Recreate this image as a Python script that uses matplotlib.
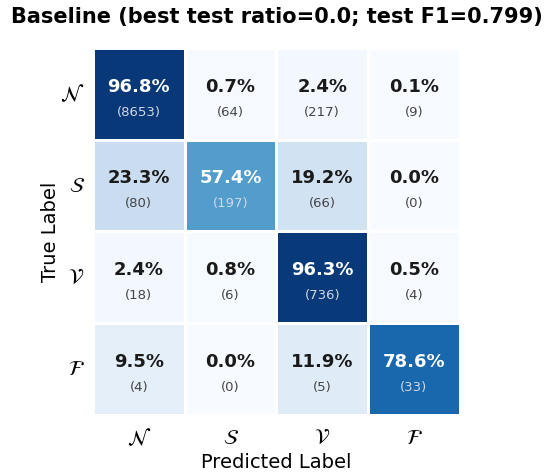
import matplotlib
matplotlib.use("Agg")
import matplotlib.pyplot as plt
import numpy as np
import seaborn as sns

classes = [r'$\mathcal{N}$', r'$\mathcal{S}$', r'$\mathcal{V}$', r'$\mathcal{F}$']
counts = np.array([
    [8653, 64, 217, 9],
    [80, 197, 66, 0],
    [18, 6, 736, 4],
    [4, 0, 5, 33],
])
title = "Baseline (best test ratio=0.0; test F1=0.799)"

pct = counts / counts.sum(axis=1, keepdims=True)

fig = plt.figure(figsize=(5.5, 4.73), dpi=100)
ax = fig.add_axes([0.169, 0.1226, 0.667, 0.776])
sns.heatmap(pct, cmap="Blues", vmin=0, vmax=1, cbar=False, linewidths=2,
            linecolor="white", square=False, ax=ax, annot=False)

for i in range(4):
    for j in range(4):
        v = pct[i, j]
        dark = v > 0.5
        c1 = "white" if dark else "#1a1a1a"
        c2 = "#d0d8e6" if dark else "#444444"
        ax.text(j + 0.5, i + 0.42, f"{v*100:.1f}%", ha="center", va="center",
                fontsize=13, fontweight="bold", color=c1)
        ax.text(j + 0.5, i + 0.7, f"({counts[i, j]})", ha="center", va="center",
                fontsize=9.5, color=c2)

ax.set_xticks(np.arange(4) + 0.5)
ax.set_yticks(np.arange(4) + 0.5)
ax.set_xticklabels(classes, fontsize=15)
ax.set_yticklabels(classes, fontsize=15, rotation=0)
ax.tick_params(axis="x", length=0, pad=9)
ax.tick_params(axis="y", length=0, pad=6)
ax.set_xlabel("Predicted Label", fontsize=14, labelpad=3)
ax.set_ylabel("True Label", fontsize=14, labelpad=0)
ax.set_title(title, fontsize=15, fontweight="bold", pad=18)

fig.savefig("out.png", dpi=100)
